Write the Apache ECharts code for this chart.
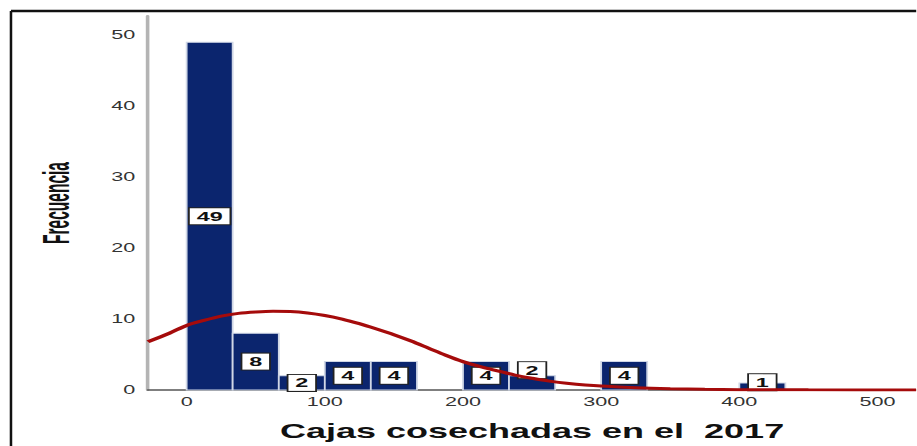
<!DOCTYPE html>
<html>
<head>
<meta charset="utf-8">
<script src="https://cdn.jsdelivr.net/npm/echarts@6/dist/echarts.min.js"></script>
<style>
  html, body { margin: 0; padding: 0; background: #fff; overflow: hidden; }
  /* The chart is laid out on a narrower canvas and widened horizontally. */
  #chart {
    width: 509.44px; height: 446px;
    transform: scaleX(1.8); transform-origin: 0 0;
  }
</style>
</head>
<body>
<div id="chart"></div>
<script>
// Histogram bins (lower/upper edges) and their frequencies
const binEdges = [0, 33.3, 66.7, 100, 133.3, 166.7, 200, 233.3, 266.7, 300, 333.3, 366.7, 400, 433.3];
const counts   = [49, 8, 2, 4, 4, 0, 4, 2, 0, 4, 0, 0, 1];

// Fitted normal curve, sampled along the x axis
const curveX = [-28, -12.5, 0, 12.5, 25, 37.5, 50, 62.5, 75, 87.5, 100, 112.5, 125, 137.5, 150, 162.5,
                175, 187.5, 200, 212.5, 225, 237.5, 250, 262.5, 275, 300, 325, 350, 375, 400, 450, 528];
const curveY = [6.8, 8.0, 9.1, 9.8, 10.4, 10.8, 11.0, 11.1, 11.05, 10.85, 10.5, 10.0, 9.35, 8.6, 7.8, 6.9,
                5.9, 4.9, 4.0, 3.3, 2.7, 2.1, 1.65, 1.25, 0.95, 0.55, 0.33, 0.19, 0.1, 0.05, 0.02, 0];

// Axis tick labels
const xTicks = [0, 100, 200, 300, 400, 500];
const yTicks = [0, 10, 20, 30, 40, 50];

const xTitle = 'Cajas cosechadas en el  2017';
const yTitle = 'Frecuencia';

const W = 509.44;
// labels that sit a little higher than the middle of their bar
const labelLift = { 7: 1.8, 12: 0.6 };

const chart = echarts.init(document.getElementById('chart'), null, { renderer: 'svg' });

chart.setOption({
  animation: false,
  backgroundColor: '#fff',
  grid: { left: 82.2, right: 0, top: 16, bottom: 56 },
  xAxis: {
    type: 'value',
    min: -28, max: 528,
    name: xTitle,
    nameLocation: 'middle',
    nameGap: 31,
    nameTextStyle: { fontFamily: '"Liberation Sans", Arial, sans-serif', fontWeight: 'bold', fontSize: 20, color: '#111' },
    axisLine: { show: true, onZero: false, lineStyle: { color: '#555', width: 1.5 } },
    axisTick: { show: false },
    splitLine: { show: false },
    axisLabel: {
      customValues: xTicks,
      margin: 6,
      fontFamily: '"Liberation Sans", Arial, sans-serif',
      fontSize: 12, color: '#333'
    }
  },
  yAxis: {
    type: 'value',
    min: 0, max: 52.7,
    axisLine: { show: true, onZero: false, lineStyle: { color: '#b4b4b4', width: 2 } },
    axisTick: { show: false },
    splitLine: { show: false },
    axisLabel: {
      customValues: yTicks,
      margin: 7,
      fontFamily: '"Liberation Sans", Arial, sans-serif',
      fontSize: 12, color: '#333'
    }
  },
  graphic: [
    { type: 'line', shape: { x1: 6.1, y1: 11, x2: W, y2: 11 }, style: { stroke: '#111', lineWidth: 2.5 } },
    { type: 'line', shape: { x1: 6.1, y1: 11, x2: 6.1, y2: 446 }, style: { stroke: '#111', lineWidth: 1.4 } },
    {
      // y axis title, condensed along its reading direction
      type: 'text',
      x: 31.1, y: 203,
      rotation: Math.PI / 2,
      scaleX: 0.74,
      style: {
        text: yTitle,
        align: 'center', verticalAlign: 'middle',
        fontFamily: '"Liberation Sans", Arial, sans-serif',
        fontWeight: 'bold',
        fontSize: 21, fill: '#111'
      }
    }
  ],
  series: [
    {
      type: 'custom',
      z: 2,
      data: counts.map((c, i) => [binEdges[i], binEdges[i + 1], c]),
      encode: { x: [0, 1], y: 2 },
      renderItem: function (params, api) {
        const x0 = api.value(0), x1 = api.value(1), c = api.value(2);
        if (!c) return null;
        const top = api.coord([x0, c]);
        const bot = api.coord([x1, 0]);
        const mid = c / 2 + (labelLift[params.dataIndex] || 0);
        const ly = api.coord([x0, mid])[1];
        return {
          type: 'group',
          children: [
            {
              type: 'rect',
              shape: { x: top[0], y: top[1], width: bot[0] - top[0], height: bot[1] - top[1] },
              style: { fill: '#0b256e', stroke: '#d0d7e6', lineWidth: 1 }
            },
            {
              type: 'text',
              z2: 10,
              style: {
                text: String(c),
                x: (top[0] + bot[0]) / 2,
                y: ly,
                align: 'center',
                verticalAlign: 'middle',
                fontFamily: '"Liberation Sans", Arial, sans-serif',
                fontWeight: 'bold',
                fontSize: 13,
                fill: '#111',
                backgroundColor: '#fff',
                borderColor: '#222',
                borderWidth: 1,
                padding: [2, 3.8, 1, 3.8]
              }
            }
          ]
        };
      }
    },
    {
      type: 'line',
      z: 5,
      smooth: 0.3,
      symbol: 'none',
      data: curveX.map((x, i) => [x, curveY[i]]),
      lineStyle: { color: '#a50b0b', width: 3 }
    }
  ]
});
</script>
</body>
</html>
